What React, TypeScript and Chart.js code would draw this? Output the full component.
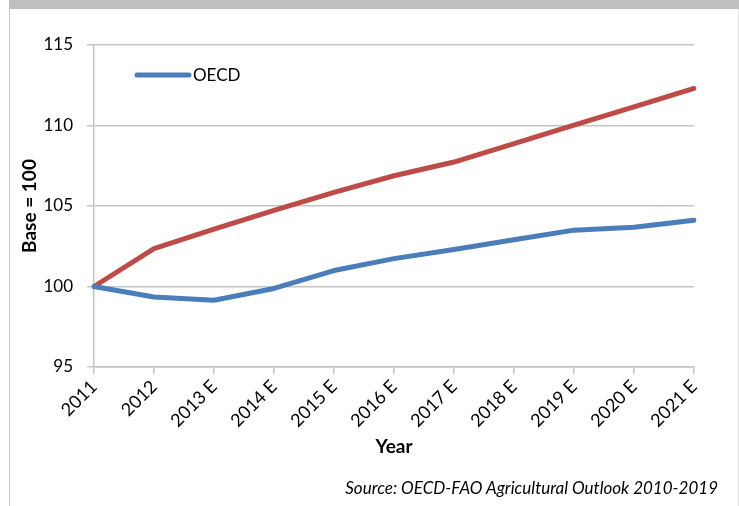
import React, { useEffect, useRef } from 'react';
import { Chart, registerables } from 'chart.js';

Chart.register(...registerables);

const years = ['2011', '2012', '2013 E', '2014 E', '2015 E', '2016 E', '2017 E', '2018 E', '2019 E', '2020 E', '2021 E'];
const oecdValues = [100, 99.35, 99.15, 99.88, 100.99, 101.73, 102.3, 102.9, 103.5, 103.68, 104.12];
const otherValues = [100, 102.35, 103.56, 104.73, 105.85, 106.88, 107.73, 108.88, 110.02, 111.16, 112.3];
const yMin = 95;
const yMax = 115;
const yStep = 5;
const seriesNames = ['OECD', 'World'];
const xTitle = 'Year';
const yTitle = 'Base = 100';
const sourceText = 'Source: OECD-FAO Agricultural Outlook 2010-2019';

const FONT = "Lato, 'Open Sans', sans-serif";
const BLUE = '#4a7ebb';
const RED = '#be4b48';
const GRID = '#c4c4c4';

const insideLegend = {
  id: 'insideLegend',
  afterDraw(chart: any) {
    const ctx = chart.ctx;
    const ds = chart.data.datasets[0];
    const x0 = chart.chartArea.left + 43;
    const y0 = chart.chartArea.top + 30;
    ctx.save();
    ctx.strokeStyle = ds.borderColor;
    ctx.lineWidth = 5;
    ctx.lineCap = 'round';
    ctx.beginPath();
    ctx.moveTo(x0, y0);
    ctx.lineTo(x0 + 52, y0);
    ctx.stroke();
    ctx.fillStyle = '#000';
    ctx.font = `17px ${FONT}`;
    ctx.textBaseline = 'middle';
    ctx.textAlign = 'left';
    ctx.fillText(ds.label, x0 + 56, y0 + 1);
    ctx.restore();
  },
};

export default function App() {
  const ref = useRef<HTMLCanvasElement | null>(null);

  useEffect(() => {
    document.body.style.margin = '0';
    const canvas = ref.current;
    if (!canvas) return;
    const chart = new Chart(canvas, {
      type: 'line',
      data: {
        labels: years,
        datasets: [
          {
            label: seriesNames[0],
            data: oecdValues,
            borderColor: BLUE,
            backgroundColor: BLUE,
            borderWidth: 5,
            pointRadius: 0,
            tension: 0,
            borderCapStyle: 'round',
            borderJoinStyle: 'round',
          },
          {
            label: seriesNames[1],
            data: otherValues,
            borderColor: RED,
            backgroundColor: RED,
            borderWidth: 5,
            pointRadius: 0,
            tension: 0,
            borderCapStyle: 'round',
            borderJoinStyle: 'round',
          },
        ],
      },
      options: {
        animation: false,
        responsive: false,
        maintainAspectRatio: false,
        layout: { padding: { left: 10, top: 45, right: 45, bottom: 48 } },
        plugins: {
          legend: { display: false },
          tooltip: { enabled: false },
        },
        scales: {
          x: {
            type: 'category',
            offset: false,
            afterFit: (s: any) => {
              s.height = 91;
            },
            grid: {
              drawOnChartArea: false,
              drawTicks: true,
              tickLength: 7,
              color: GRID,
              lineWidth: 1.5,
            },
            border: { color: GRID, width: 1.5 },
            ticks: {
              autoSkip: false,
              minRotation: 45,
              maxRotation: 45,
              padding: 2,
              color: '#000',
              font: { family: FONT, size: 18 },
            },
            title: {
              display: true,
              text: xTitle,
              color: '#000',
              padding: { top: 0, bottom: 0 },
              font: { family: FONT, size: 19, weight: 'bold' },
            },
          },
          y: {
            min: yMin,
            max: yMax,
            afterFit: (s: any) => {
              s.width = 84;
            },
            grid: {
              drawOnChartArea: true,
              drawTicks: true,
              tickLength: 7,
              color: GRID,
              lineWidth: 1.5,
            },
            border: { color: GRID, width: 1.5 },
            ticks: {
              stepSize: yStep,
              padding: 14,
              color: '#000',
              font: { family: FONT, size: 17 },
            },
            title: {
              display: true,
              text: yTitle,
              color: '#000',
              padding: { top: 8, bottom: 0 },
              font: { family: FONT, size: 19, weight: 'bold' },
            },
          },
        },
      },
      plugins: [insideLegend],
    } as any);
    return () => chart.destroy();
  }, []);

  return (
    <div style={{ position: 'relative', width: 739, height: 506, background: '#fff', overflow: 'hidden' }}>
      <div style={{ position: 'absolute', left: 9, top: 0, width: 730, height: 9, background: '#bfbfbf' }} />
      <div style={{ position: 'absolute', left: 9, top: 9, width: 1, height: 497, background: '#c8c8c8' }} />
      <div style={{ position: 'absolute', left: 738, top: 9, width: 1, height: 497, background: '#e4e4e4' }} />
      <canvas ref={ref} width={739} height={506} style={{ position: 'absolute', left: 0, top: 0, display: 'block' }} />
      <div
        style={{
          position: 'absolute',
          right: 21,
          top: 477,
          fontFamily: FONT,
          fontStyle: 'italic',
          fontSize: 17,
          color: '#000',
          whiteSpace: 'nowrap',
        }}
      >
        {sourceText}
      </div>
    </div>
  );
}
